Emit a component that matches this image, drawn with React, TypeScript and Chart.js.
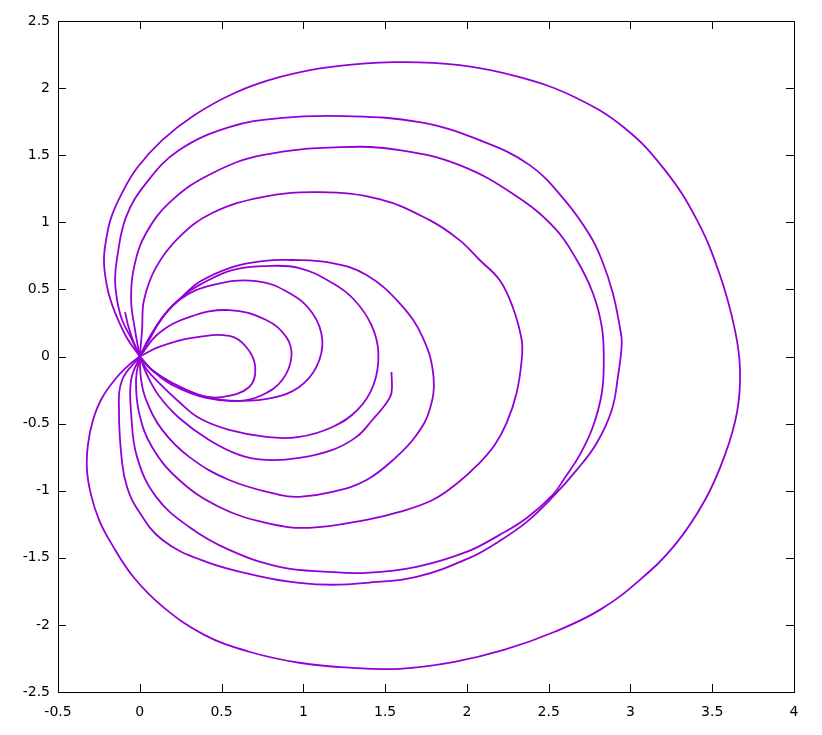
import React, { useEffect, useRef } from "react";
import { Chart, registerables } from "chart.js";

Chart.register(...registerables);

const xTickValues = [-0.5, 0, 0.5, 1, 1.5, 2, 2.5, 3, 3.5, 4];
const yTickValues = [-2.5, -2, -1.5, -1, -0.5, 0, 0.5, 1, 1.5, 2, 2.5];

type P = [number, number];

const loop1: P[] = [
  [0, 0], [-0.078, 0.138], [-0.145, 0.309], [-0.188, 0.458], [-0.212, 0.607], [-0.219, 0.733],
  [-0.206, 0.867], [-0.176, 1.031], [-0.115, 1.203], [-0.017, 1.404], [0.137, 1.612],
  [0.333, 1.798], [0.577, 1.962], [0.853, 2.081], [1.159, 2.156], [1.557, 2.193],
  [1.955, 2.171], [2.323, 2.081], [2.66, 1.932], [2.966, 1.701], [3.211, 1.389],
  [3.407, 1.016], [3.547, 0.607], [3.639, 0.197], [3.67, -0.1], [3.652, -0.413],
  [3.578, -0.733], [3.456, -1.069], [3.272, -1.404], [3.058, -1.664], [2.813, -1.888],
  [2.537, -2.051], [2.231, -2.185], [1.925, -2.275], [1.588, -2.327], [1.282, -2.319],
  [0.975, -2.282], [0.669, -2.2], [0.394, -2.074], [0.149, -1.873], [-0.035, -1.649],
  [-0.176, -1.389], [-0.249, -1.217], [-0.298, -1.031], [-0.323, -0.845], [-0.317, -0.659],
  [-0.286, -0.473], [-0.231, -0.309], [-0.139, -0.153], [-0.066, -0.063], [0, 0],
];

const loop2: P[] = [
  [0, 0], [-0.047, 0.123], [-0.108, 0.272], [-0.139, 0.421], [-0.151, 0.57], [-0.139, 0.733],
  [-0.084, 1.039], [0.039, 1.292], [0.241, 1.538], [0.547, 1.709], [0.853, 1.776],
  [1.251, 1.791], [1.71, 1.746], [2.078, 1.612], [2.384, 1.426], [2.598, 1.165],
  [2.751, 0.905], [2.825, 0.719], [2.892, 0.473], [2.935, 0.22], [2.947, 0.101],
  [2.923, -0.153], [2.886, -0.398], [2.794, -0.644], [2.672, -0.845], [2.525, -1.046],
  [2.366, -1.232], [2.2, -1.374], [2.017, -1.5], [1.692, -1.642], [1.386, -1.687],
  [1.178, -1.701], [0.975, -1.687], [0.749, -1.642], [0.406, -1.53], [0.137, -1.366],
  [-0.023, -1.121], [-0.078, -0.972], [-0.108, -0.793], [-0.127, -0.421], [-0.108, -0.175], [0, 0],
];

const loop3: P[] = [
  [0, 0], [-0.029, 0.197], [-0.053, 0.421], [-0.035, 0.666], [0.039, 0.92], [0.198, 1.165],
  [0.443, 1.366], [0.749, 1.5], [1.233, 1.56], [1.588, 1.538], [1.955, 1.426],
  [2.292, 1.203], [2.537, 0.957], [2.672, 0.719], [2.77, 0.473], [2.825, 0.22],
  [2.837, -0.026], [2.825, -0.272], [2.77, -0.525], [2.69, -0.733], [2.598, -0.905],
  [2.525, -1.031], [2.366, -1.203], [2.2, -1.329], [1.998, -1.456], [1.692, -1.567],
  [1.386, -1.612], [1.159, -1.605], [0.853, -1.567], [0.547, -1.441], [0.302, -1.27],
  [0.1, -1.046], [-0.017, -0.748], [-0.053, -0.421], [-0.053, -0.175], [0, 0],
];

const loop4: P[] = [
  [0, 0], [0.014, 0.197], [0.026, 0.421], [0.1, 0.666], [0.241, 0.89], [0.443, 1.069],
  [0.749, 1.188], [1.098, 1.225], [1.465, 1.173], [1.772, 1.016], [1.955, 0.867],
  [2.078, 0.719], [2.2, 0.57], [2.28, 0.369], [2.335, 0.123], [2.335, -0.026],
  [2.304, -0.272], [2.243, -0.495], [2.17, -0.659], [2.065, -0.808], [1.943, -0.942],
  [1.79, -1.069], [1.588, -1.158], [1.386, -1.217], [1.037, -1.277], [0.773, -1.24],
  [0.486, -1.121], [0.241, -0.92], [0.075, -0.674], [-0.004, -0.421], [-0.023, -0.175], [0, 0],
];

const loop5: P[] = [
  [0, 0], [0.057, 0.138], [0.149, 0.309], [0.271, 0.458], [0.363, 0.555], [0.565, 0.666],
  [0.749, 0.711], [0.933, 0.719], [1.178, 0.696], [1.386, 0.607], [1.588, 0.398],
  [1.729, 0.145], [1.796, -0.153], [1.772, -0.398], [1.692, -0.585], [1.569, -0.748],
  [1.386, -0.92], [1.178, -1.009], [0.975, -1.046], [0.853, -1.031], [0.547, -0.92],
  [0.302, -0.748], [0.137, -0.547], [0.039, -0.324], [0.008, -0.175], [0, 0],
];

const loop6: P[] = [
  [0, 0], [0.057, 0.123], [0.149, 0.309], [0.271, 0.458], [0.363, 0.532], [0.565, 0.644],
  [0.773, 0.674], [0.975, 0.659], [1.178, 0.547], [1.312, 0.421], [1.416, 0.235],
  [1.459, 0.026], [1.429, -0.212], [1.331, -0.398], [1.178, -0.525], [0.975, -0.599],
  [0.773, -0.599], [0.547, -0.547], [0.363, -0.458], [0.241, -0.339], [0.118, -0.197],
  [0.045, -0.101], [0, 0],
];

const loop7: P[] = [
  [0, 0], [0.1, 0.22], [0.241, 0.421], [0.443, 0.532], [0.712, 0.562], [0.914, 0.473],
  [1.055, 0.324], [1.116, 0.123], [1.08, -0.078], [0.975, -0.227], [0.81, -0.309],
  [0.608, -0.331], [0.406, -0.302], [0.198, -0.197], [0.075, -0.101], [0, 0],
];

const loop8: P[] = [
  [0, 0], [0.118, 0.175], [0.302, 0.294], [0.547, 0.346], [0.773, 0.272], [0.896, 0.145],
  [0.927, -0.004], [0.871, -0.175], [0.749, -0.287], [0.608, -0.331], [0.406, -0.309],
  [0.198, -0.212], [0.075, -0.101], [0, 0],
];

const loop9: P[] = [
  [0, 0], [0.118, 0.071], [0.32, 0.138], [0.547, 0.153], [0.651, 0.071], [0.706, -0.078],
  [0.669, -0.227], [0.504, -0.302], [0.363, -0.287], [0.198, -0.197], [0.075, -0.101], [0, 0],
];

const endTail: P[] = [
  [1.539, -0.115], [1.539, -0.272], [1.508, -0.346], [1.422, -0.473], [1.325, -0.599],
  [1.178, -0.696], [0.975, -0.756], [0.773, -0.771], [0.608, -0.733], [0.424, -0.622],
  [0.241, -0.458], [0.118, -0.294], [0.045, -0.138], [0, 0],
];

const startTail: P[] = [
  [-0.09, 0.331], [-0.072, 0.235], [-0.047, 0.138], [-0.023, 0.063], [0, 0],
];

const curves: P[][] = [startTail, loop9, loop8, loop7, loop6, loop5, loop4, loop3, loop2, loop1, endTail];

const COLOR = "#9400d3";
const FONT = "'DejaVu Sans', sans-serif";

const framePlugin = {
  id: "frameTicks",
  afterDraw(chart: any) {
    const { ctx, chartArea } = chart;
    const { left, right, top, bottom } = chartArea;
    const xs = chart.scales.x;
    const ys = chart.scales.y;
    const L = 8;
    ctx.save();
    ctx.strokeStyle = "#000";
    ctx.lineWidth = 1;
    ctx.beginPath();
    for (const v of xTickValues) {
      const px = Math.round(xs.getPixelForValue(v)) + 0.5;
      ctx.moveTo(px, bottom);
      ctx.lineTo(px, bottom - L);
      ctx.moveTo(px, top);
      ctx.lineTo(px, top + L);
    }
    for (const v of yTickValues) {
      const py = Math.round(ys.getPixelForValue(v)) + 0.5;
      ctx.moveTo(left, py);
      ctx.lineTo(left + L, py);
      ctx.moveTo(right, py);
      ctx.lineTo(right - L, py);
    }
    ctx.stroke();
    ctx.strokeRect(Math.round(left) + 0.5, Math.round(top) + 0.5, Math.round(right - left), Math.round(bottom - top));
    ctx.restore();
  },
};

export default function App() {
  const ref = useRef<HTMLCanvasElement>(null);
  useEffect(() => {
    if (!ref.current) return;
    const chart = new Chart(ref.current, {
      type: "scatter",
      data: {
        datasets: curves.map((c) => ({
          data: c.map(([x, y]) => ({ x, y })),
          showLine: true,
          borderColor: COLOR,
          backgroundColor: COLOR,
          borderWidth: 1.8,
          pointRadius: 0,
          tension: 0.4,
          fill: false,
        })),
      },
      options: {
        animation: false,
        responsive: false,
        events: [],
        layout: { padding: { top: 21, right: 28, left: 0, bottom: 0 } },
        plugins: { legend: { display: false }, tooltip: { enabled: false } },
        scales: {
          x: {
            type: "linear",
            min: -0.5,
            max: 4,
            afterBuildTicks: (s: any) => {
              s.ticks = xTickValues.map((v) => ({ value: v }));
            },
            afterFit: (s: any) => {
              s.height = 43;
            },
            grid: { display: false, drawTicks: false },
            border: { display: false },
            ticks: {
              color: "#000",
              font: { family: FONT, size: 14 },
              padding: 12,
              maxRotation: 0,
              autoSkip: false,
              callback: (v: any) => String(v),
            },
          },
          y: {
            type: "linear",
            min: -2.5,
            max: 2.5,
            afterBuildTicks: (s: any) => {
              s.ticks = yTickValues.map((v) => ({ value: v }));
            },
            afterFit: (s: any) => {
              s.width = 58;
            },
            grid: { display: false, drawTicks: false },
            border: { display: false },
            ticks: {
              color: "#000",
              font: { family: FONT, size: 14 },
              padding: 8,
              autoSkip: false,
              callback: (v: any) => String(v),
            },
          },
        },
      },
      plugins: [framePlugin],
    });
    return () => chart.destroy();
  }, []);
  return (
    <div style={{ position: "absolute", left: 0, top: 0, width: 822, height: 735, background: "#fff" }}>
      <canvas ref={ref} width={822} height={735} style={{ width: 822, height: 735, display: "block" }} />
    </div>
  );
}
